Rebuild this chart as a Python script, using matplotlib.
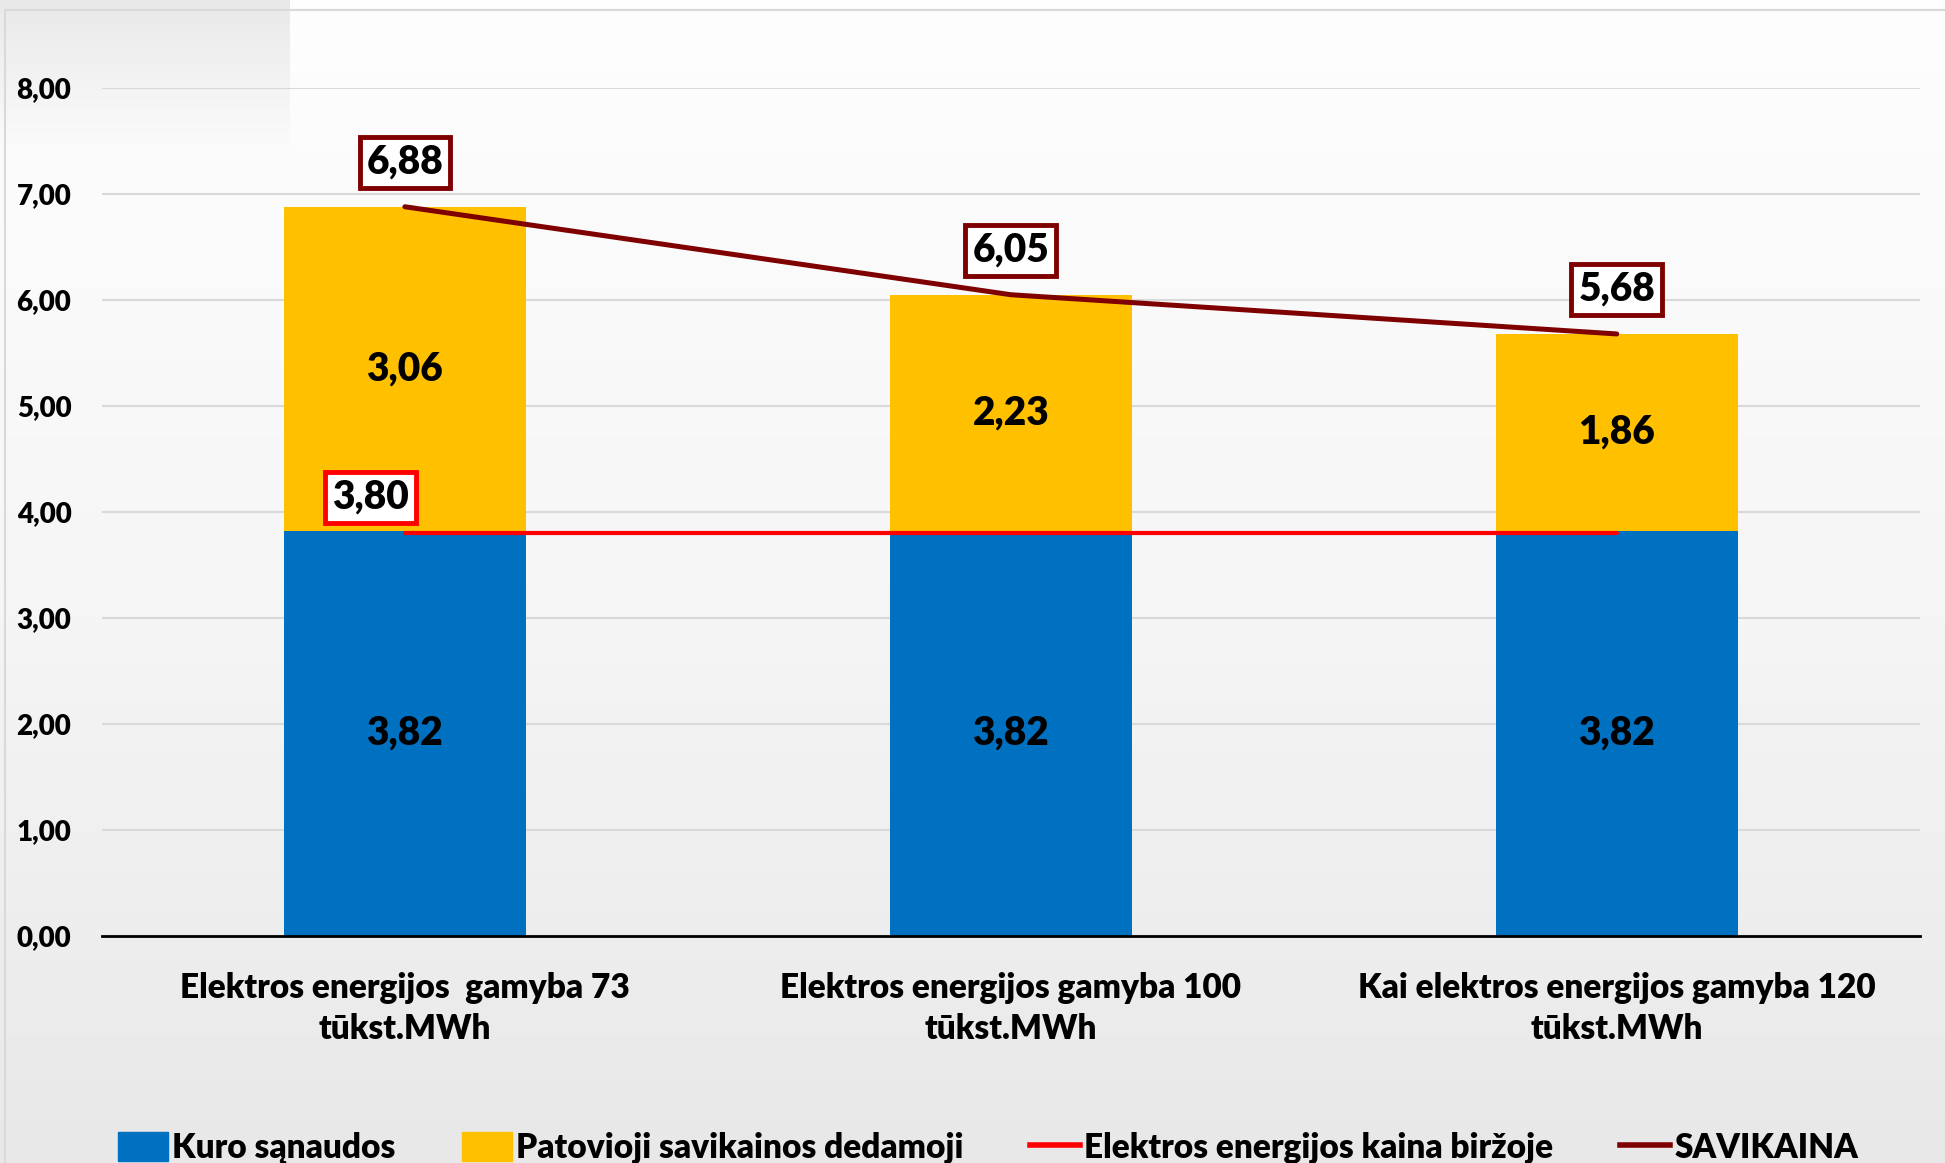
import numpy as np
import matplotlib
matplotlib.use("Agg")
import matplotlib.pyplot as plt
from matplotlib.patches import Patch, Rectangle
from matplotlib.lines import Line2D
from matplotlib.ticker import FuncFormatter

plt.rcParams['font.family'] = ['Lato', 'DejaVu Sans']
plt.rcParams['font.weight'] = 'bold'

categories = ["Elektros energijos  gamyba 73\ntūkst.MWh",
              "Elektros energijos gamyba 100\ntūkst.MWh",
              "Kai elektros energijos gamyba 120\ntūkst.MWh"]
kuro = [3.82, 3.82, 3.82]
patovioji = [3.06, 2.23, 1.86]
kaina = [3.80, 3.80, 3.80]
savikaina = [6.88, 6.05, 5.68]
series_names = ["Kuro sąnaudos", "Patovioji savikainos dedamoji",
                "Elektros energijos kaina biržoje", "SAVIKAINA"]

BLUE = "#0070c0"
YELLOW = "#ffc000"
RED = "#ff0000"
DARKRED = "#7f0000"

fig = plt.figure(figsize=(19.45, 11.63), dpi=100)

# background gradient
bg = fig.add_axes([0, 0, 1, 1], zorder=-10)
grad = np.linspace(0, 1, 256).reshape(-1, 1)
bg.imshow(grad, aspect='auto', cmap=matplotlib.colors.LinearSegmentedColormap.from_list(
    "g", ["#fefefe", "#f6f6f6", "#e8e8e8"]), extent=[0, 1, 0, 1], origin='upper')
# grey patch top-left
patch = np.linspace(0, 1, 64).reshape(-1, 1)
bg.imshow(patch, aspect='auto', cmap=matplotlib.colors.LinearSegmentedColormap.from_list(
    "p", ["#e9e9e9", "#fbfbfb"]), extent=[0, 290 / 1945, 1 - 150 / 1163, 1], origin='upper')
bg.add_patch(Rectangle((5 / 1945, -0.1), 1.2, 1 - 10 / 1163 + 0.1, fill=False,
                       edgecolor="#d9d9d9", linewidth=1.5))
bg.set_xlim(0, 1)
bg.set_ylim(0, 1)
bg.axis('off')

ax = fig.add_axes([0.0524, 0.1952, 0.9346, 0.7291])
ax.patch.set_alpha(0)
x = np.arange(len(categories))
w = 0.4

ax.bar(x, kuro, w, color=BLUE, zorder=2)
ax.bar(x, patovioji, w, bottom=kuro, color=YELLOW, zorder=2)
ax.plot(x, kaina, color=RED, linewidth=3, solid_capstyle='round', zorder=3)
ax.plot(x, savikaina, color=DARKRED, linewidth=3.6, solid_capstyle='round', zorder=4)

for i in range(len(x)):
    ax.text(x[i], kuro[i] / 2, f"{kuro[i]:.2f}".replace(".", ","), ha='center', va='center',
            fontsize=28, fontweight='heavy', zorder=5)
    ax.text(x[i], kuro[i] + patovioji[i] / 2, f"{patovioji[i]:.2f}".replace(".", ","),
            ha='center', va='center', fontsize=28, fontweight='heavy', zorder=5)
    ax.annotate(f"{savikaina[i]:.2f}".replace(".", ","), (x[i], savikaina[i]),
                xytext=(0, 32), textcoords='offset points', ha='center', va='center',
                fontsize=28, fontweight='heavy', zorder=6,
                bbox=dict(boxstyle='square,pad=0.18', fc='white', ec=DARKRED, lw=3.5))

ax.annotate(f"{kaina[0]:.2f}".replace(".", ","), (x[0], kaina[0]),
            xytext=(-25, 26), textcoords='offset points', ha='center', va='center',
            fontsize=28, fontweight='heavy', zorder=6,
            bbox=dict(boxstyle='square,pad=0.18', fc='white', ec=RED, lw=3.5))

ax.set_xlim(-0.5, 2.5)
ax.set_ylim(0, 8)
ax.set_yticks(np.arange(0, 9, 1))
ax.yaxis.set_major_formatter(FuncFormatter(lambda v, p: f"{v:.2f}".replace(".", ",")))
ax.grid(axis='y', color="#d9d9d9", linewidth=1.5, zorder=0)
ax.set_axisbelow(True)
ax.set_xticks(x)
ax.set_xticklabels(categories, fontsize=24, fontweight='heavy', linespacing=1.35)
ax.tick_params(axis='both', length=0)
ax.tick_params(axis='y', labelsize=20, pad=22)
for lbl in ax.get_yticklabels():
    lbl.set_fontweight('heavy')
ax.tick_params(axis='x', pad=26)
for s in ['top', 'right', 'left']:
    ax.spines[s].set_visible(False)
ax.spines['bottom'].set_color('black')
ax.spines['bottom'].set_linewidth(2)

handles = [Patch(color=BLUE), Patch(color=YELLOW),
           Line2D([], [], color=RED, linewidth=4),
           Line2D([], [], color=DARKRED, linewidth=4)]
leg = fig.legend(handles, series_names, loc='center', bbox_to_anchor=(0.508, 0.013), ncol=4,
                 frameon=False, fontsize=24, handlelength=1.5, handleheight=0.95,
                 handletextpad=0.12, columnspacing=2.0)
for t in leg.get_texts():
    t.set_fontweight('heavy')

fig.savefig("out.png", dpi=100)
